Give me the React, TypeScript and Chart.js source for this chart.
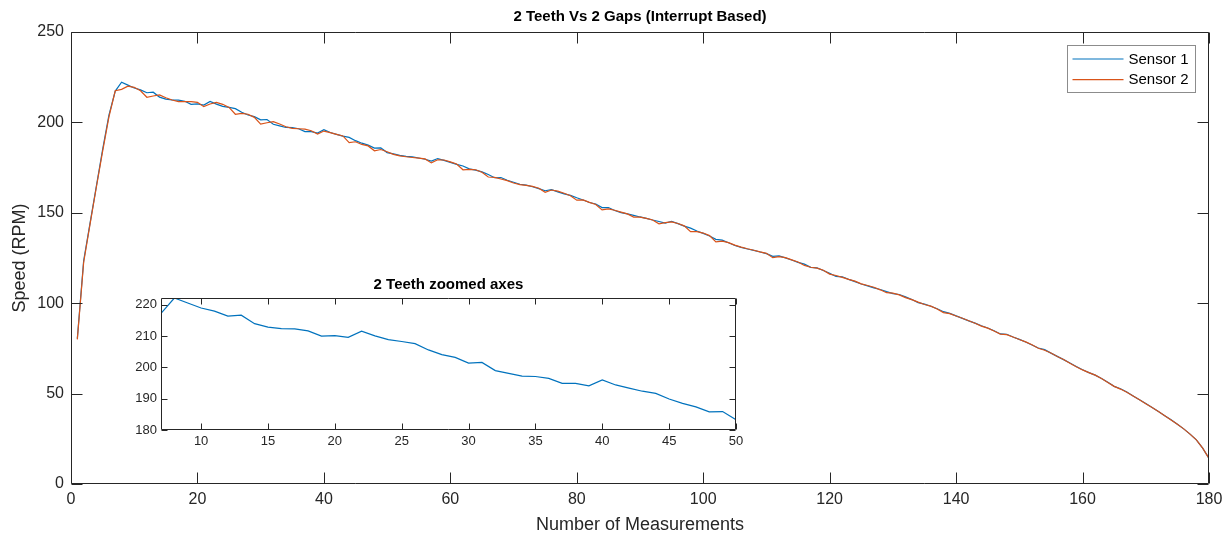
import { useEffect, useRef } from "react";
import { Chart, registerables } from "chart.js";

Chart.register(...registerables);

const SENSOR_1 = [
  80.5, 123.5, 144.0, 164.5, 185.0, 204.0, 217.3, 222.2, 220.6, 219.0,
  218.0, 216.4, 216.7, 214.0, 212.9, 212.4, 212.3, 211.7, 210.0, 210.2,
  209.6, 211.6, 210.1, 208.9, 208.3, 207.6, 205.6, 204.1, 203.2, 201.4,
  201.6, 199.0, 198.1, 197.2, 197.1, 196.5, 194.9, 194.9, 194.1, 196.0,
  194.4, 193.4, 192.4, 191.7, 189.9, 188.5, 187.4, 185.8, 185.9, 183.3,
  182.6, 181.8, 181.2, 180.9, 180.3, 179.6, 178.6, 180.0, 179.0, 177.9,
  176.8, 175.9, 174.3, 173.6, 172.6, 171.2, 169.4, 169.5, 168.0, 166.9,
  165.8, 165.3, 164.4, 163.4, 162.2, 162.8, 161.6, 160.5, 159.6, 158.3,
  157.1, 155.7, 154.9, 152.9, 152.9, 151.3, 150.1, 149.4, 148.6, 147.7,
  146.9, 146.0, 145.2, 144.3, 145.3, 144.0, 142.6, 141.5, 139.9, 138.6,
  137.2, 135.3, 134.9, 133.4, 131.9, 130.9, 130.0, 129.2, 128.3, 127.4,
  125.9, 126.2, 125.1, 123.9, 122.6, 121.6, 119.8, 119.5, 118.1, 116.5,
  114.8, 114.6, 113.2, 111.9, 110.6, 109.6, 108.5, 107.6, 106.4, 105.3,
  104.8, 103.5, 102.0, 100.3, 99.5, 98.3, 96.9, 95.3, 94.4, 93.0,
  91.6, 90.2, 89.0, 87.5, 86.3, 84.8, 83.0, 82.8, 81.3, 80.0,
  78.5, 76.9, 75.2, 74.3, 72.4, 70.6, 68.8, 66.9, 65.0, 63.2,
  61.6, 60.2, 58.4, 56.3, 54.0, 52.7, 50.9, 48.7, 46.6, 44.5,
  42.3, 40.1, 37.8, 35.5, 33.0, 30.5, 27.6, 24.4, 19.8, 14.2,
];

const SENSOR_2 = [
  80.0, 122.5, 143.5, 164.0, 184.0, 203.0, 217.5, 218.3, 220.0, 219.4,
  217.5, 213.9, 214.6, 215.2, 213.6, 212.4, 211.5, 211.5, 211.5, 211.1,
  208.7, 210.2, 211.1, 210.0, 208.3, 204.5, 205.0, 204.5, 202.8, 199.0,
  199.8, 200.4, 199.1, 197.6, 196.7, 196.5, 196.3, 195.4, 193.6, 195.2,
  194.3, 193.4, 192.5, 188.8, 189.3, 187.8, 187.0, 184.3, 185.0, 183.8,
  182.3, 181.5, 181.0, 180.6, 180.2, 179.8, 177.6, 179.3, 179.2, 178.2,
  177.0, 173.8, 174.0, 173.8, 172.4, 169.8, 169.6, 168.7, 167.8, 166.5,
  165.6, 165.2, 164.6, 163.6, 161.3, 162.6, 162.0, 160.8, 159.4, 157.0,
  157.1, 155.8, 154.6, 151.6, 152.2, 151.4, 150.4, 149.4, 147.6, 147.6,
  146.9, 146.0, 143.9, 144.6, 145.0, 144.1, 142.8, 139.6, 139.6, 138.8,
  137.4, 133.9, 134.3, 133.5, 132.1, 131.0, 130.1, 129.3, 128.4, 127.6,
  125.2, 125.8, 125.2, 124.0, 122.8, 120.9, 119.9, 119.4, 118.2, 116.1,
  115.3, 114.3, 113.2, 112.2, 110.7, 109.8, 108.8, 107.4, 105.8, 105.6,
  104.6, 103.1, 102.0, 100.6, 99.3, 98.4, 96.8, 94.8, 94.2, 92.9,
  91.7, 90.3, 88.9, 87.3, 86.2, 84.6, 82.9, 82.6, 81.3, 79.9,
  78.6, 77.0, 75.1, 74.0, 72.5, 70.5, 68.9, 66.8, 64.9, 63.1,
  61.6, 60.2, 58.3, 56.1, 54.0, 52.5, 50.8, 48.7, 46.6, 44.4,
  42.3, 40.1, 37.8, 35.4, 33.0, 30.5, 27.6, 24.4, 19.8, 14.2,
];

const SERIES_NAMES = ["Sensor 1", "Sensor 2"];
const X_TICKS = [0, 20, 40, 60, 80, 100, 120, 140, 160, 180];
const Y_TICKS = [0, 50, 100, 150, 200, 250];
const INSET_RANGE = [7, 50];
const INSET_Y_RANGE = [180, 222.2];
const INSET_X_TICKS = [10, 15, 20, 25, 30, 35, 40, 45, 50];
const INSET_Y_TICKS = [180, 190, 200, 210, 220];

const MAIN_TITLE = "2 Teeth Vs 2 Gaps (Interrupt Based)";
const INSET_TITLE = "2 Teeth zoomed axes";
const X_LABEL = "Number of Measurements";
const Y_LABEL = "Speed (RPM)";

const BLUE = "#0072BD";
const ORANGE = "#D95319";
const AXIS = "#262626";
const FONT = "Arial, 'Liberation Sans', Helvetica, sans-serif";

const toPoints = (vals: number[], start: number) =>
  vals.map((v, i) => ({ x: start + i, y: v }));

const axisBoxPlugin = {
  id: "axisBox",
  beforeDraw(chart: any, _a: any, opts: any) {
    if (!opts.fill) return;
    const { ctx, chartArea } = chart;
    ctx.save();
    ctx.fillStyle = "#ffffff";
    ctx.fillRect(chartArea.left, chartArea.top, chartArea.right - chartArea.left, chartArea.bottom - chartArea.top);
    ctx.restore();
  },
  afterDatasetsDraw(chart: any, _a: any, opts: any) {
    const { ctx, chartArea, scales } = chart;
    const L = Math.round(chartArea.left) + 0.5;
    const R = Math.round(chartArea.right) - 0.5;
    const T = Math.round(chartArea.top) + 0.5;
    const B = Math.round(chartArea.bottom) - 0.5;
    const len = opts.tickLength;
    ctx.save();
    ctx.strokeStyle = AXIS;
    ctx.lineWidth = 1;
    ctx.beginPath();
    ctx.rect(L, T, R - L, B - T);
    scales.x.ticks.forEach((t: any) => {
      const px = Math.round(scales.x.getPixelForValue(t.value)) + 0.5;
      ctx.moveTo(px, B);
      ctx.lineTo(px, B - len);
      ctx.moveTo(px, T);
      ctx.lineTo(px, T + len);
    });
    scales.y.ticks.forEach((t: any) => {
      const py = Math.round(scales.y.getPixelForValue(t.value)) + 0.5;
      ctx.moveTo(L, py);
      ctx.lineTo(L + len, py);
      ctx.moveTo(R, py);
      ctx.lineTo(R - len, py);
    });
    ctx.stroke();
    ctx.restore();
  },
};

const boxLegendPlugin = {
  id: "boxLegend",
  afterDraw(chart: any, _a: any, opts: any) {
    if (!opts.display) return;
    const { ctx, chartArea } = chart;
    const w = 128;
    const h = 47;
    const x0 = Math.round(chartArea.right - 14 - w) + 0.5;
    const y0 = Math.round(chartArea.top + 13) + 0.5;
    ctx.save();
    ctx.fillStyle = "#ffffff";
    ctx.fillRect(x0, y0, w, h);
    ctx.strokeStyle = "#8c8c8c";
    ctx.lineWidth = 1;
    ctx.strokeRect(x0, y0, w, h);
    ctx.font = `15px ${FONT}`;
    ctx.textBaseline = "middle";
    ctx.textAlign = "left";
    chart.data.datasets.forEach((ds: any, i: number) => {
      const y = y0 + 13.5 + i * 20.6;
      ctx.strokeStyle = ds.borderColor;
      ctx.lineWidth = 1.2;
      ctx.beginPath();
      ctx.moveTo(x0 + 5, y);
      ctx.lineTo(x0 + 56, y);
      ctx.stroke();
      ctx.fillStyle = "#000000";
      ctx.fillText(ds.label, x0 + 61, y + 0.5);
    });
    ctx.restore();
  },
};

function MainChart() {
  const ref = useRef<HTMLCanvasElement>(null);
  useEffect(() => {
    const chart = new Chart(ref.current as HTMLCanvasElement, {
      type: "line",
      data: {
        datasets: [
          { label: SERIES_NAMES[0], data: toPoints(SENSOR_1, 1), borderColor: BLUE, borderWidth: 1.2, pointRadius: 0, tension: 0, fill: false, order: 1 },
          { label: SERIES_NAMES[1], data: toPoints(SENSOR_2, 1), borderColor: ORANGE, borderWidth: 1.2, pointRadius: 0, tension: 0, fill: false, order: 0 },
        ],
      },
      options: {
        animation: false,
        responsive: false,
        events: [],
        layout: { padding: { left: 0, right: 22, top: 0, bottom: 0 } },
        plugins: {
          legend: { display: false },
          tooltip: { enabled: false },
          title: {
            display: true,
            text: MAIN_TITLE,
            fullSize: false,
            color: "#000000",
            font: { family: FONT, size: 15, weight: "bold", lineHeight: 1.2 },
            padding: { top: 8, bottom: 6 },
          },
          axisBox: { tickLength: 11, fill: false },
          boxLegend: { display: true },
        } as any,
        scales: {
          x: {
            type: "linear",
            min: 0,
            max: 180,
            grid: { display: false, drawTicks: false },
            border: { display: false },
            afterBuildTicks: (s: any) => { s.ticks = X_TICKS.map((v) => ({ value: v })); },
            afterFit: (s: any) => { s.height = 53; },
            ticks: { color: AXIS, font: { family: FONT, size: 16 }, padding: 6, maxRotation: 0, autoSkip: false },
            title: { display: true, text: X_LABEL, color: AXIS, font: { family: FONT, size: 18, lineHeight: 1.2 }, padding: { top: 0, bottom: 1.2 } },
          },
          y: {
            type: "linear",
            min: 0,
            max: 250,
            grid: { display: false, drawTicks: false },
            border: { display: false },
            afterBuildTicks: (s: any) => { s.ticks = Y_TICKS.map((v) => ({ value: v })); },
            afterFit: (s: any) => { s.width = 71; },
            ticks: { color: AXIS, font: { family: FONT, size: 16 }, padding: 7, autoSkip: false },
            title: { display: true, text: Y_LABEL, color: AXIS, font: { family: FONT, size: 18, lineHeight: 1.2 }, padding: { top: 9, bottom: 0 } },
          },
        },
      },
      plugins: [axisBoxPlugin, boxLegendPlugin],
    } as any);
    return () => chart.destroy();
  }, []);
  return <canvas ref={ref} width={1231} height={537} style={{ position: "absolute", left: 0, top: 0, width: 1231, height: 537 }} />;
}

function InsetChart() {
  const ref = useRef<HTMLCanvasElement>(null);
  useEffect(() => {
    const chart = new Chart(ref.current as HTMLCanvasElement, {
      type: "line",
      data: {
        datasets: [
          {
            label: SERIES_NAMES[0],
            data: toPoints(SENSOR_1.slice(INSET_RANGE[0] - 1, INSET_RANGE[1]), INSET_RANGE[0]),
            borderColor: BLUE,
            borderWidth: 1.2,
            pointRadius: 0,
            tension: 0,
            fill: false,
          },
        ],
      },
      options: {
        animation: false,
        responsive: false,
        events: [],
        layout: { padding: { left: 0, right: 24, top: 0, bottom: 0 } },
        plugins: {
          legend: { display: false },
          tooltip: { enabled: false },
          title: {
            display: true,
            text: INSET_TITLE,
            fullSize: false,
            color: "#000000",
            font: { family: FONT, size: 15, weight: "bold", lineHeight: 1.2 },
            padding: { top: 6, bottom: 4 },
          },
          axisBox: { tickLength: 6, fill: true },
        } as any,
        scales: {
          x: {
            type: "linear",
            min: INSET_RANGE[0],
            max: INSET_RANGE[1],
            grid: { display: false, drawTicks: false },
            border: { display: false },
            afterBuildTicks: (s: any) => { s.ticks = INSET_X_TICKS.map((v) => ({ value: v })); },
            afterFit: (s: any) => { s.height = 25; },
            ticks: { color: AXIS, font: { family: FONT, size: 13 }, padding: 4, maxRotation: 0, autoSkip: false },
          },
          y: {
            type: "linear",
            min: INSET_Y_RANGE[0],
            max: INSET_Y_RANGE[1],
            grid: { display: false, drawTicks: false },
            border: { display: false },
            afterBuildTicks: (s: any) => { s.ticks = INSET_Y_TICKS.map((v) => ({ value: v })); },
            afterFit: (s: any) => { s.width = 61; },
            ticks: { color: AXIS, font: { family: FONT, size: 13 }, padding: 4, autoSkip: false },
          },
        },
      },
      plugins: [axisBoxPlugin],
    } as any);
    return () => chart.destroy();
  }, []);
  return <canvas ref={ref} width={660} height={185} style={{ position: "absolute", left: 100, top: 270, width: 660, height: 185 }} />;
}

export default function App() {
  return (
    <div style={{ position: "fixed", left: 0, top: 0, width: 1231, height: 537, background: "#ffffff", overflow: "hidden" }}>
      <MainChart />
      <InsetChart />
    </div>
  );
}
